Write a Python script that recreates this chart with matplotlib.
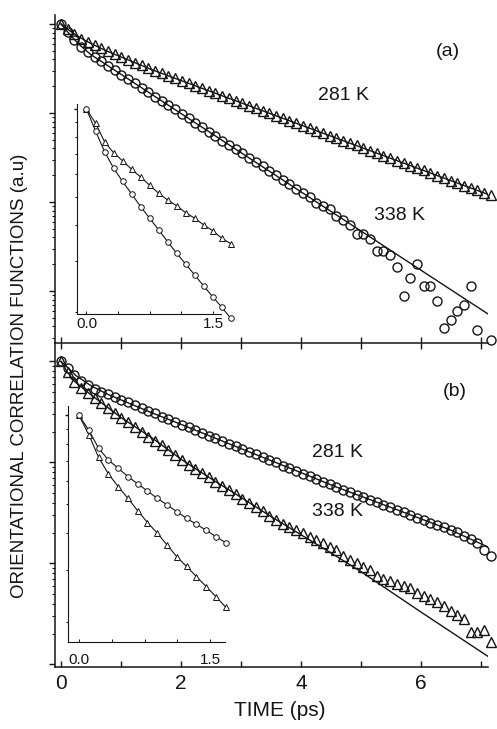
import numpy as np
import matplotlib
matplotlib.use("Agg")
from matplotlib import pyplot as plt
from matplotlib.ticker import LogLocator, NullFormatter, MultipleLocator, FixedLocator

plt.rcParams['font.family'] = ['Liberation Sans', 'DejaVu Sans']

W, H = 497, 729

# sampling grid of the curves (ps)
dt_main = 0.112
dt_ins_a = 0.107
dt_ins_b = 0.112

# ---- panel (a): log10 of correlation ----
a_281 = [0, -0.06, -0.115, -0.165, -0.205, -0.24, -0.275, -0.305, -0.34, -0.37,
         -0.40, -0.435, -0.465, -0.50, -0.525, -0.555, -0.585, -0.61, -0.64, -0.665,
         -0.695, -0.72, -0.75, -0.78, -0.805, -0.835, -0.865, -0.89, -0.92, -0.945,
         -0.975, -1.005, -1.03, -1.06, -1.085, -1.115, -1.145, -1.17, -1.20, -1.225,
         -1.255, -1.285, -1.31, -1.34, -1.365, -1.395, -1.425, -1.45, -1.48, -1.505,
         -1.535, -1.565, -1.59, -1.62, -1.645, -1.675, -1.705, -1.73, -1.76, -1.785,
         -1.815, -1.845, -1.87, -1.90, -1.925]
a_338 = [0, -0.09, -0.18, -0.26, -0.32, -0.37, -0.42, -0.47, -0.52, -0.57,
         -0.62, -0.665, -0.715, -0.765, -0.815, -0.865, -0.91, -0.96, -1.01, -1.06,
         -1.11, -1.16, -1.21, -1.255, -1.31, -1.355, -1.405, -1.455, -1.505, -1.555,
         -1.60, -1.655, -1.70, -1.75, -1.80, -1.85, -1.90, -1.94, -2.01, -2.05,
         -2.08, -2.16, -2.20, -2.26, -2.36, -2.36, -2.42, -2.55, -2.55, -2.60,
         -2.73, -3.06, -2.85, -2.70, -2.94, -2.94, -3.11, -3.41, -3.32, -3.22,
         -3.16, -2.94, -3.44, np.nan, -3.55]
fit_a281_t = [0, 0.112, 0.224, 0.336, 0.5, 0.75, 1.0, 1.5, 2.0, 3.0, 4.0, 5.0, 6.0, 7.17]
fit_a281 = [0, -0.06, -0.112, -0.16, -0.22, -0.30, -0.37, -0.51, -0.635, -0.885, -1.135, -1.385, -1.635, -1.927]
fit_a338_t = [0, 0.112, 0.224, 0.336, 0.5, 1.0, 2.0, 3.0, 4.0, 5.0, 6.0, 7.17]
fit_a338 = [0, -0.09, -0.175, -0.25, -0.345, -0.565, -1.005, -1.445, -1.885, -2.325, -2.765, -3.28]

# ---- panel (b) ----
b_281 = [0, -0.06, -0.13, -0.19, -0.235, -0.27, -0.30, -0.325, -0.355, -0.38,
         -0.405, -0.435, -0.46, -0.49, -0.515, -0.545, -0.57, -0.595, -0.625, -0.65,
         -0.68, -0.705, -0.735, -0.76, -0.785, -0.815, -0.84, -0.865, -0.895, -0.92,
         -0.95, -0.975, -1.00, -1.03, -1.055, -1.08, -1.11, -1.135, -1.165, -1.19,
         -1.215, -1.245, -1.27, -1.295, -1.32, -1.345, -1.37, -1.39, -1.42, -1.445,
         -1.47, -1.495, -1.52, -1.545, -1.57, -1.595, -1.615, -1.64, -1.665, -1.69,
         -1.725, -1.755, -1.80, -1.87, -1.93]
b_338 = [0, -0.10, -0.20, -0.265, -0.315, -0.365, -0.415, -0.465, -0.515, -0.555,
         -0.60, -0.645, -0.695, -0.745, -0.785, -0.825, -0.875, -0.925, -0.975, -1.02,
         -1.06, -1.10, -1.145, -1.19, -1.23, -1.27, -1.315, -1.36, -1.40, -1.44,
         -1.485, -1.53, -1.57, -1.605, -1.635, -1.67, -1.70, -1.735, -1.77, -1.80,
         -1.835, -1.865, -1.925, -1.965, -2.00, -2.03, -2.06, -2.12, -2.15, -2.17,
         -2.20, -2.22, -2.245, -2.29, -2.32, -2.355, -2.38, -2.42, -2.47, -2.51,
         -2.55, -2.675, -2.675, -2.66, -2.78]
fit_b281_t = [0, 0.112, 0.25, 0.5, 0.78, 1.0, 1.5, 2.0, 3.0, 4.0, 4.6, 5.5, 6.5, 7.17]
fit_b281 = [0, -0.06, -0.14, -0.24, -0.325, -0.38, -0.505, -0.622, -0.862, -1.10, -1.245, -1.445, -1.67, -1.85]
fit_b338_t = [0, 0.1, 0.22, 0.5, 1.0, 1.5, 2.02, 2.5, 3.0, 3.5, 4.0, 4.5, 5.0, 6.0, 7.12]
fit_b338 = [0, -0.10, -0.195, -0.33, -0.555, -0.75, -0.975, -1.16, -1.345, -1.535, -1.715, -1.895, -2.08, -2.48, -2.92]

# ---- insets ----
ins_a_338 = [0, -0.075, -0.146, -0.203, -0.249, -0.292, -0.336, -0.376, -0.416,
             -0.457, -0.497, -0.534, -0.572, -0.610, -0.647, -0.683, -0.721]
ins_a_281 = [0, -0.048, -0.112, -0.150, -0.178, -0.207, -0.234, -0.262, -0.290,
             -0.313, -0.333, -0.357, -0.376, -0.399, -0.419, -0.445, -0.464]
ins_b_281 = [0, -0.05, -0.111, -0.151, -0.179, -0.207, -0.232, -0.256, -0.281,
             -0.303, -0.326, -0.349, -0.369, -0.389, -0.411, -0.431]
ins_b_338 = [0, -0.065, -0.142, -0.198, -0.241, -0.281, -0.323, -0.363, -0.399,
             -0.439, -0.479, -0.512, -0.546, -0.580, -0.614, -0.650]

ink = '#151515'


def rect(x0, y0, x1, y1):
    # pixel box (top-left origin) -> figure fraction
    return [x0 / W, 1 - y1 / H, (x1 - x0) / W, (y1 - y0) / H]


def pos(x, y):
    return x / W, 1 - y / H


def log_axis(ax, major_len=4.5, minor_len=2.5, direction='out'):
    ax.set_yscale('log')
    ax.yaxis.set_major_locator(LogLocator(base=10, numticks=20))
    ax.yaxis.set_minor_locator(LogLocator(base=10, subs=np.arange(2, 10), numticks=20))
    ax.yaxis.set_major_formatter(NullFormatter())
    ax.yaxis.set_minor_formatter(NullFormatter())
    ax.tick_params(axis='y', which='major', direction=direction, length=major_len, width=1.0, color=ink)
    ax.tick_params(axis='y', which='minor', direction=direction, length=minor_len, width=0.8, color=ink)
    for s in ['top', 'right']:
        ax.spines[s].set_visible(False)
    for s in ['left', 'bottom']:
        ax.spines[s].set_linewidth(1.1)
        ax.spines[s].set_color(ink)
    ax.patch.set_visible(False)


def main_panel(ax, circ, tri, fits, ylog):
    t = np.arange(len(circ)) * dt_main
    for ft, fv in fits:
        ax.plot(ft, 10 ** np.array(fv), '-', color=ink, lw=1.0, zorder=2)
    ax.plot(t, 10 ** np.array(tri), '^', ms=7, mfc='none', mec=ink, mew=1.0, clip_on=False, zorder=3)
    ax.plot(t, 10 ** np.array(circ), 'o', ms=6.5, mfc='none', mec=ink, mew=1.0, clip_on=False, zorder=3)
    log_axis(ax)
    ax.set_xlim(-0.1, 7.12)
    ax.set_ylim(10 ** ylog[1], 10 ** ylog[0])


def inset_panel(ax, dt, s_circ, s_tri, xlim, ylog, label_pad):
    t = np.arange(len(s_circ)) * dt
    for s in (s_circ, s_tri):
        ax.plot(t, 10 ** np.array(s), '-', color=ink, lw=0.8, zorder=2, clip_on=False)
    ax.plot(t, 10 ** np.array(s_tri), '^', ms=4.3, mfc='white', mec=ink, mew=0.7, clip_on=False, zorder=3)
    ax.plot(t, 10 ** np.array(s_circ), 'o', ms=4.0, mfc='white', mec=ink, mew=0.7, clip_on=False, zorder=3)
    log_axis(ax, major_len=2.5, minor_len=1.8, direction='out')
    ax.spines['left'].set_linewidth(0.8)
    ax.spines['bottom'].set_linewidth(0.8)
    ax.set_xlim(*xlim)
    ax.set_ylim(10 ** ylog[1], 10 ** ylog[0])
    ax.xaxis.set_major_locator(FixedLocator([0.0, 1.5]))
    ax.xaxis.set_minor_locator(MultipleLocator(0.375))
    ax.set_xticklabels(['0.0', '1.5'])
    ax.tick_params(axis='x', which='both', direction='in', length=2, width=0.7,
                   labelsize=11, pad=label_pad, color=ink, labelcolor=ink)


fig = plt.figure(figsize=(W / 100, H / 100), dpi=100)

# panel (b)
ax_b = fig.add_axes(rect(55, 343, 488, 667))
main_panel(ax_b, b_281, b_338, [(fit_b281_t, fit_b281), (fit_b338_t, fit_b338)], (0.183, -3.025))
ax_b.xaxis.set_major_locator(MultipleLocator(2))
ax_b.xaxis.set_minor_locator(MultipleLocator(1))
ax_b.tick_params(axis='x', which='both', direction='in', length=4, width=1.0,
                 top=True, labelsize=15, pad=5, color=ink, labelcolor=ink)

# panel (a), drawn above (b) so the shared boundary line stays visible
ax_a = fig.add_axes(rect(55, 15, 488, 343))
main_panel(ax_a, a_338, a_281, [(fit_a281_t, fit_a281), (fit_a338_t, fit_a338)], (0.101, -3.584))
ax_a.xaxis.set_major_locator(MultipleLocator(1))
ax_a.tick_params(axis='x', which='both', direction='in', length=4, width=1.0,
                 labelbottom=False, color=ink)

# insets
ins_a = fig.add_axes(rect(77.3, 104, 221, 314))
inset_panel(ins_a, dt_ins_a, ins_a_338, ins_a_281, (-0.109, 1.595), (0.018, -0.706), 2)
ins_b = fig.add_axes(rect(68.3, 406, 225, 641.7))
inset_panel(ins_b, dt_ins_b, ins_b_281, ins_b_338, (-0.123, 1.672), (0.032, -0.767), 8)

# annotations
fs = 14
fig.text(*pos(448, 52), '(a)', fontsize=fs, ha='center', va='center', color=ink)
fig.text(*pos(343, 96), '281 K', fontsize=fs, ha='center', va='center', color=ink)
fig.text(*pos(400, 215), '338 K', fontsize=fs, ha='center', va='center', color=ink)
fig.text(*pos(455, 392), '(b)', fontsize=fs, ha='center', va='center', color=ink)
fig.text(*pos(338, 453), '281 K', fontsize=fs, ha='center', va='center', color=ink)
fig.text(*pos(338, 512), '338 K', fontsize=fs, ha='center', va='center', color=ink)

fig.text(*pos(20, 376), 'ORIENTATIONAL CORRELATION FUNCTIONS (a.u)', fontsize=13.5,
         rotation=90, ha='center', va='center', color=ink)
fig.text(*pos(280, 711), 'TIME (ps)', fontsize=15, ha='center', va='center', color=ink)

fig.savefig('out.png', dpi=100)
